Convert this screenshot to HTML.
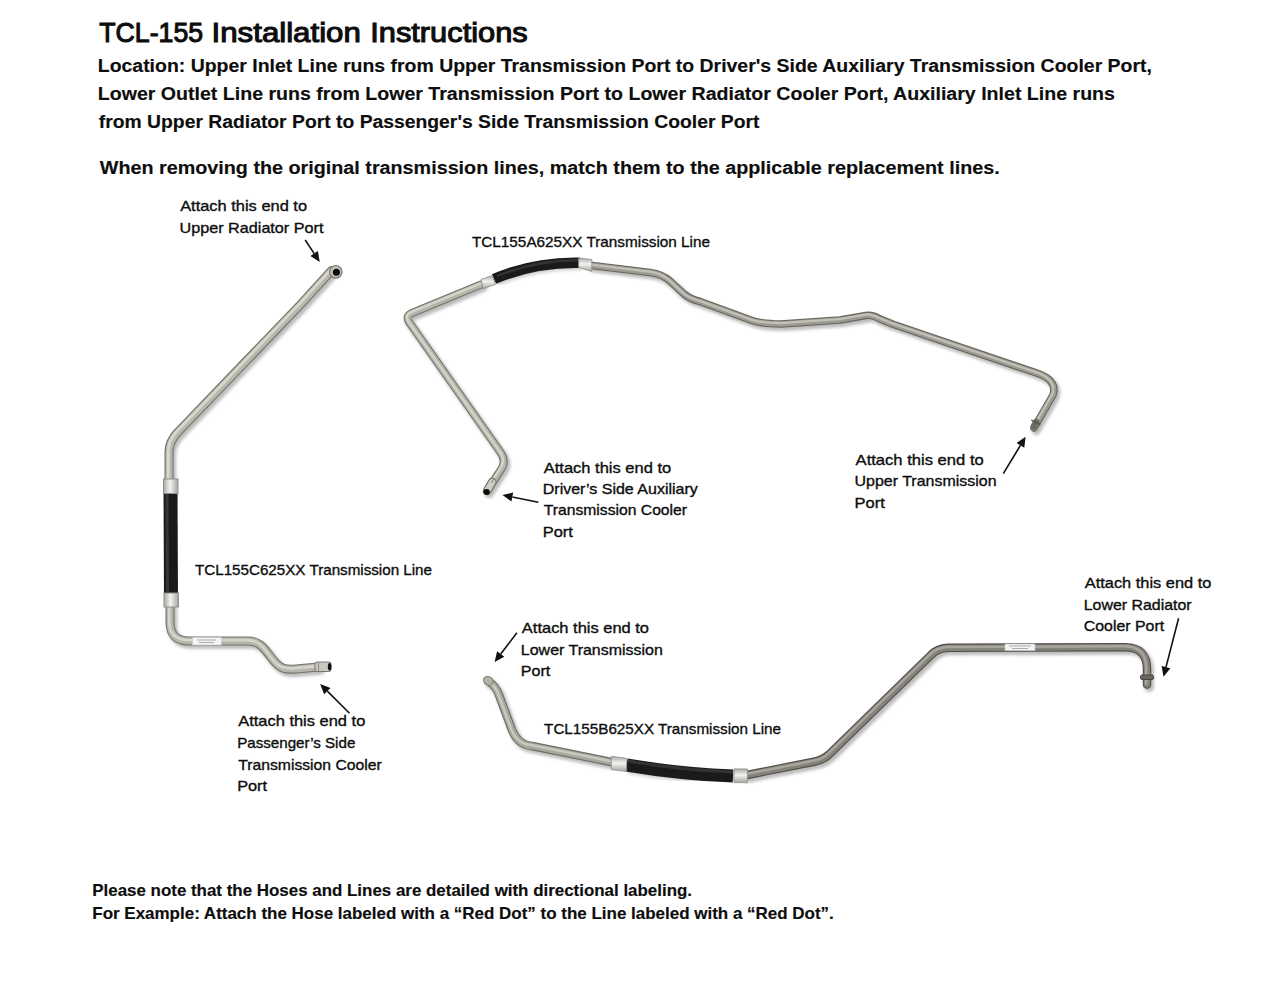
<!DOCTYPE html>
<html><head><meta charset="utf-8"><title>TCL-155 Installation Instructions</title>
<style>html,body{margin:0;padding:0;background:#fff;width:1280px;height:989px;overflow:hidden}svg{display:block}
text{font-family:"Liberation Sans", sans-serif;}</style></head>
<body>
<svg width="1280" height="989" viewBox="0 0 1280 989">
<defs><filter id="blur" x="-20%" y="-20%" width="140%" height="140%"><feGaussianBlur stdDeviation="1.6"/></filter>
<linearGradient id="fer" x1="0" y1="0" x2="0" y2="1"><stop offset="0" stop-color="#a9a9a6"/><stop offset="0.45" stop-color="#f2f2f0"/><stop offset="1" stop-color="#a4a4a0"/></linearGradient>
<linearGradient id="ferh" x1="0" y1="0" x2="1" y2="0"><stop offset="0" stop-color="#a9a9a6"/><stop offset="0.45" stop-color="#f2f2f0"/><stop offset="1" stop-color="#a4a4a0"/></linearGradient></defs>
<rect width="1280" height="989" fill="#fff"/>
<path d="M331.5,270.5 L301,304 L177,433 Q169,442 169,452 L169,481" fill="none" stroke="#000" stroke-opacity="0.26" stroke-width="10.0" stroke-linecap="round" stroke-linejoin="round" transform="translate(2.2,2.8)" filter="url(#blur)"/>
<path d="M331.5,270.5 L301,304 L177,433 Q169,442 169,452 L169,481" fill="none" stroke="#74736a" stroke-width="9.0" stroke-linecap="round" stroke-linejoin="round"/>
<path d="M331.5,270.5 L301,304 L177,433 Q169,442 169,452 L169,481" fill="none" stroke="#b9b8ad" stroke-width="6.8" stroke-linecap="round" stroke-linejoin="round"/>
<path d="M331.5,270.5 L301,304 L177,433 Q169,442 169,452 L169,481" fill="none" stroke="#dedcd4" stroke-width="2.7" stroke-linecap="round" stroke-linejoin="round" transform="translate(-0.8,-0.9)" opacity="0.85"/>
<path d="M170,606 L170,622 Q170,641 189,641 L248,641 C262,641 266,652 274,661 C280,668 284,670 296,669 L318,667" fill="none" stroke="#000" stroke-opacity="0.26" stroke-width="10.0" stroke-linecap="round" stroke-linejoin="round" transform="translate(2.2,2.8)" filter="url(#blur)"/>
<path d="M170,606 L170,622 Q170,641 189,641 L248,641 C262,641 266,652 274,661 C280,668 284,670 296,669 L318,667" fill="none" stroke="#74736a" stroke-width="9.0" stroke-linecap="round" stroke-linejoin="round"/>
<path d="M170,606 L170,622 Q170,641 189,641 L248,641 C262,641 266,652 274,661 C280,668 284,670 296,669 L318,667" fill="none" stroke="#b6b5aa" stroke-width="6.8" stroke-linecap="round" stroke-linejoin="round"/>
<path d="M170,606 L170,622 Q170,641 189,641 L248,641 C262,641 266,652 274,661 C280,668 284,670 296,669 L318,667" fill="none" stroke="#dcdad2" stroke-width="2.7" stroke-linecap="round" stroke-linejoin="round" transform="translate(-0.8,-0.9)" opacity="0.85"/>
<path d="M170.5,487 L171,600" stroke="#000" stroke-opacity="0.18" stroke-width="15" fill="none" transform="translate(2,2)" filter="url(#blur)"/>
<path d="M170.5,487 L171,600" stroke="#1a1a1a" stroke-width="14" fill="none"/>
<path d="M167,494 L167.5,592" stroke="#4a4a4a" stroke-width="3" fill="none" opacity="0.6"/>
<rect x="163.5" y="479" width="14.5" height="14.5" fill="url(#ferh)" stroke="#8e8e8a" stroke-width="1"/>
<rect x="164" y="593" width="14.5" height="14" fill="url(#ferh)" stroke="#8e8e8a" stroke-width="1"/>
<rect x="192.5" y="637.5" width="29" height="7.5" fill="#f4f4f4" stroke="#c8c8c8" stroke-width="0.6"/>
<path d="M197,640 L216,640 M199,642.5 L214,642.5" stroke="#999" stroke-width="0.8"/>
<circle cx="335.8" cy="271.8" r="6.3" fill="#c0bfb6" stroke="#77766d" stroke-width="1.2"/>
<circle cx="336.4" cy="272.3" r="3.5" fill="#0a0a0a"/>
<rect x="315" y="662" width="16" height="9.5" rx="2" fill="#c9c8c0" stroke="#77766d" stroke-width="1"/>
<path d="M318.5,662.5 L318.5,671" stroke="#888" stroke-width="1"/>
<ellipse cx="329.6" cy="666.8" rx="1.8" ry="3.8" fill="#111"/>
<path d="M487,491 L500,471 Q507,462 501,453 L409,322 Q405,316 412,313 L481,284.5" fill="none" stroke="#000" stroke-opacity="0.26" stroke-width="9.0" stroke-linecap="round" stroke-linejoin="round" transform="translate(2.2,2.8)" filter="url(#blur)"/>
<path d="M487,491 L500,471 Q507,462 501,453 L409,322 Q405,316 412,313 L481,284.5" fill="none" stroke="#74736a" stroke-width="8.0" stroke-linecap="round" stroke-linejoin="round"/>
<path d="M487,491 L500,471 Q507,462 501,453 L409,322 Q405,316 412,313 L481,284.5" fill="none" stroke="#b5b4a9" stroke-width="5.8" stroke-linecap="round" stroke-linejoin="round"/>
<path d="M487,491 L500,471 Q507,462 501,453 L409,322 Q405,316 412,313 L481,284.5" fill="none" stroke="#dad9d1" stroke-width="2.4" stroke-linecap="round" stroke-linejoin="round" transform="translate(-0.8,-0.9)" opacity="0.85"/>
<path d="M592,265.5 L650,272.5 Q662,274 670,281 L684,294 Q690,299 700,301.5 L752,320.5 Q760,323.5 781,324 L840,320 L866,315.5 Q872,314.5 880,319 L893,324.3 L1036,372.8 Q1058,380 1053,395 L1034,428" fill="none" stroke="#000" stroke-opacity="0.26" stroke-width="8.5" stroke-linecap="round" stroke-linejoin="round" transform="translate(2.2,2.8)" filter="url(#blur)"/>
<path d="M592,265.5 L650,272.5 Q662,274 670,281 L684,294 Q690,299 700,301.5 L752,320.5 Q760,323.5 781,324 L840,320 L866,315.5 Q872,314.5 880,319 L893,324.3 L1036,372.8 Q1058,380 1053,395 L1034,428" fill="none" stroke="#66655c" stroke-width="7.5" stroke-linecap="round" stroke-linejoin="round"/>
<path d="M592,265.5 L650,272.5 Q662,274 670,281 L684,294 Q690,299 700,301.5 L752,320.5 Q760,323.5 781,324 L840,320 L866,315.5 Q872,314.5 880,319 L893,324.3 L1036,372.8 Q1058,380 1053,395 L1034,428" fill="none" stroke="#9d9b91" stroke-width="5.3" stroke-linecap="round" stroke-linejoin="round"/>
<path d="M592,265.5 L650,272.5 Q662,274 670,281 L684,294 Q690,299 700,301.5 L752,320.5 Q760,323.5 781,324 L840,320 L866,315.5 Q872,314.5 880,319 L893,324.3 L1036,372.8 Q1058,380 1053,395 L1034,428" fill="none" stroke="#c9c8c0" stroke-width="2.2" stroke-linecap="round" stroke-linejoin="round" transform="translate(-0.8,-0.9)" opacity="0.85"/>
<path d="M494,279 C515,270 545,262 580,262.7" stroke="#000" stroke-opacity="0.18" stroke-width="11" fill="none" transform="translate(2,2)" filter="url(#blur)"/>
<path d="M494,279 C515,270 545,262 580,262.7" stroke="#1a1a1a" stroke-width="10.5" fill="none"/>
<path d="M497,276 C518,267.5 545,260 578,260.3" stroke="#444" stroke-width="2.4" fill="none" opacity="0.6"/>
<path d="M481,279.5 L492.3,275.5 L495.3,284.6 L483.1,288.7 Z" fill="url(#fer)" stroke="#8e8e8a" stroke-width="0.8"/>
<path d="M578.6,258 L591.8,259.5 L591.8,271.4 L578.6,267.5 Z" fill="url(#fer)" stroke="#8e8e8a" stroke-width="0.8"/>
<path d="M487.6,490 L492.2,482" stroke="#77766d" stroke-width="8.6" stroke-linecap="round" fill="none"/>
<path d="M487.6,490 L492.2,482" stroke="#cfcec5" stroke-width="6.4" stroke-linecap="round" fill="none"/>
<path d="M491.6,483 L494.2,478.5" stroke="#8a897f" stroke-width="1" fill="none"/>
<ellipse cx="486.6" cy="491.9" rx="3.2" ry="2.9" fill="#0a0a0a"/>
<path d="M1036.2,422 L1033.8,426.5" stroke="#6c6a62" stroke-width="6.5" stroke-linecap="round" fill="none"/>
<path d="M1031.3,420.2 L1040.3,424.6" stroke="#55534c" stroke-width="1.4" fill="none"/>
<path d="M488,681 Q496,686 499,695 L512,730 Q518,745 532,746 L611,762" fill="none" stroke="#000" stroke-opacity="0.26" stroke-width="9.5" stroke-linecap="round" stroke-linejoin="round" transform="translate(2.2,2.8)" filter="url(#blur)"/>
<path d="M488,681 Q496,686 499,695 L512,730 Q518,745 532,746 L611,762" fill="none" stroke="#6f6e65" stroke-width="8.5" stroke-linecap="round" stroke-linejoin="round"/>
<path d="M488,681 Q496,686 499,695 L512,730 Q518,745 532,746 L611,762" fill="none" stroke="#a9a89d" stroke-width="6.3" stroke-linecap="round" stroke-linejoin="round"/>
<path d="M488,681 Q496,686 499,695 L512,730 Q518,745 532,746 L611,762" fill="none" stroke="#cfcec6" stroke-width="2.5" stroke-linecap="round" stroke-linejoin="round" transform="translate(-0.8,-0.9)" opacity="0.85"/>
<path d="M747,775 L815,761.5 Q823,760 829,754.5 L931,655 Q937,648.5 948,647.8 L1125,647.2 Q1147,647.2 1147,669 L1147,684.5" fill="none" stroke="#000" stroke-opacity="0.26" stroke-width="9.5" stroke-linecap="round" stroke-linejoin="round" transform="translate(2.2,2.8)" filter="url(#blur)"/>
<path d="M747,775 L815,761.5 Q823,760 829,754.5 L931,655 Q937,648.5 948,647.8 L1125,647.2 Q1147,647.2 1147,669 L1147,684.5" fill="none" stroke="#524f48" stroke-width="8.5" stroke-linecap="round" stroke-linejoin="round"/>
<path d="M747,775 L815,761.5 Q823,760 829,754.5 L931,655 Q937,648.5 948,647.8 L1125,647.2 Q1147,647.2 1147,669 L1147,684.5" fill="none" stroke="#85827a" stroke-width="6.3" stroke-linecap="round" stroke-linejoin="round"/>
<path d="M747,775 L815,761.5 Q823,760 829,754.5 L931,655 Q937,648.5 948,647.8 L1125,647.2 Q1147,647.2 1147,669 L1147,684.5" fill="none" stroke="#aeaca4" stroke-width="2.5" stroke-linecap="round" stroke-linejoin="round" transform="translate(-0.8,-0.9)" opacity="0.85"/>
<path d="M626.6,765 Q680,774 733,776" stroke="#000" stroke-opacity="0.18" stroke-width="14" fill="none" transform="translate(2,2)" filter="url(#blur)"/>
<path d="M626.6,765 Q680,774 733,776" stroke="#1a1a1a" stroke-width="13" fill="none"/>
<path d="M628,761 Q680,770 733,772" stroke="#444" stroke-width="3" fill="none" opacity="0.6"/>
<path d="M611.3,756.3 L626.6,758.3 L626.6,771.6 L611.3,769.5 Z" fill="url(#fer)" stroke="#8e8e8a" stroke-width="0.8"/>
<path d="M734,768.9 L747.4,768.9 L747.4,782.8 L734,782.5 Z" fill="url(#fer)" stroke="#8e8e8a" stroke-width="0.8"/>
<rect x="1005" y="644" width="30" height="6.5" fill="#f4f4f4" stroke="#c8c8c8" stroke-width="0.6"/>
<path d="M1009,646 L1031,646 M1012,648.5 L1028,648.5" stroke="#999" stroke-width="0.8"/>
<rect x="1140.5" y="675" width="13" height="4.5" rx="1.5" fill="#6a675f" stroke="#3e3c37" stroke-width="0.9"/>
<ellipse cx="488.3" cy="680.8" rx="5" ry="4.2" transform="rotate(30 488.3 680.8)" fill="#b3b2a8" stroke="#7c7a72" stroke-width="1"/>
<line x1="305.2" y1="240.0" x2="314.2" y2="253.6" stroke="#111" stroke-width="1.6"/><polygon points="319.7,261.9 310.4,256.0 317.9,251.1" fill="#111"/>
<line x1="538.4" y1="502.2" x2="512.3" y2="497.0" stroke="#111" stroke-width="1.6"/><polygon points="502.5,495.0 513.2,492.6 511.4,501.4" fill="#111"/>
<line x1="1003.3" y1="473.6" x2="1020.4" y2="445.4" stroke="#111" stroke-width="1.6"/><polygon points="1025.6,436.8 1024.3,447.7 1016.6,443.0" fill="#111"/>
<line x1="349.5" y1="713.3" x2="327.3" y2="691.1" stroke="#111" stroke-width="1.6"/><polygon points="320.2,684.0 330.5,687.9 324.1,694.3" fill="#111"/>
<line x1="516.9" y1="632.8" x2="500.7" y2="654.0" stroke="#111" stroke-width="1.6"/><polygon points="494.6,661.9 497.1,651.2 504.3,656.7" fill="#111"/>
<line x1="1178.6" y1="618.2" x2="1166.0" y2="667.1" stroke="#111" stroke-width="1.6"/><polygon points="1163.5,676.8 1161.6,666.0 1170.4,668.2" fill="#111"/>
<g font-family="Liberation Sans, sans-serif" fill="#0d0d0d">
<text x="99.35" y="42.40" font-size="28.49" font-weight="normal" textLength="103.69" lengthAdjust="spacingAndGlyphs" stroke="#0d0d0d" stroke-width="1.10">TCL-155</text>
<text x="211.55" y="42.40" font-size="28.49" font-weight="normal" textLength="149.29" lengthAdjust="spacingAndGlyphs" stroke="#0d0d0d" stroke-width="1.10">Installation</text>
<text x="370.25" y="42.40" font-size="28.49" font-weight="normal" textLength="157.41" lengthAdjust="spacingAndGlyphs" stroke="#0d0d0d" stroke-width="1.10">Instructions</text>
<text x="97.77" y="71.70" font-size="18.90" font-weight="bold" textLength="1054.14" lengthAdjust="spacingAndGlyphs" stroke="#0d0d0d" stroke-width="0.15">Location: Upper Inlet Line runs from Upper Transmission Port to Driver's Side Auxiliary Transmission Cooler Port,</text>
<text x="97.77" y="99.80" font-size="18.90" font-weight="bold" textLength="1017.16" lengthAdjust="spacingAndGlyphs" stroke="#0d0d0d" stroke-width="0.15">Lower Outlet Line runs from Lower Transmission Port to Lower Radiator Cooler Port, Auxiliary Inlet Line runs</text>
<text x="98.77" y="127.50" font-size="18.90" font-weight="bold" textLength="660.65" lengthAdjust="spacingAndGlyphs" stroke="#0d0d0d" stroke-width="0.15">from Upper Radiator Port to Passenger's Side Transmission Cooler Port</text>
<text x="99.77" y="173.60" font-size="19.19" font-weight="bold" textLength="899.90" lengthAdjust="spacingAndGlyphs" stroke="#0d0d0d" stroke-width="0.15">When removing the original transmission lines, match them to the applicable replacement lines.</text>
<text x="180.18" y="210.60" font-size="15.41" font-weight="normal" textLength="126.85" lengthAdjust="spacingAndGlyphs" stroke="#0d0d0d" stroke-width="0.35">Attach this end to</text>
<text x="179.57" y="232.50" font-size="15.41" font-weight="normal" textLength="143.85" lengthAdjust="spacingAndGlyphs" stroke="#0d0d0d" stroke-width="0.35">Upper Radiator Port</text>
<text x="471.97" y="247.30" font-size="15.55" font-weight="normal" textLength="238.05" lengthAdjust="spacingAndGlyphs" stroke="#0d0d0d" stroke-width="0.35">TCL155A625XX Transmission Line</text>
<text x="543.77" y="472.50" font-size="15.41" font-weight="normal" textLength="127.45" lengthAdjust="spacingAndGlyphs" stroke="#0d0d0d" stroke-width="0.35">Attach this end to</text>
<text x="542.77" y="493.60" font-size="15.41" font-weight="normal" textLength="155.04" lengthAdjust="spacingAndGlyphs" stroke="#0d0d0d" stroke-width="0.35">Driver’s Side Auxiliary</text>
<text x="543.77" y="515.40" font-size="15.41" font-weight="normal" textLength="143.26" lengthAdjust="spacingAndGlyphs" stroke="#0d0d0d" stroke-width="0.35">Transmission Cooler</text>
<text x="542.77" y="536.50" font-size="15.41" font-weight="normal" textLength="30.15" lengthAdjust="spacingAndGlyphs" stroke="#0d0d0d" stroke-width="0.35">Port</text>
<text x="855.58" y="465.00" font-size="15.41" font-weight="normal" textLength="128.15" lengthAdjust="spacingAndGlyphs" stroke="#0d0d0d" stroke-width="0.35">Attach this end to</text>
<text x="854.58" y="486.30" font-size="15.41" font-weight="normal" textLength="141.95" lengthAdjust="spacingAndGlyphs" stroke="#0d0d0d" stroke-width="0.35">Upper Transmission</text>
<text x="854.58" y="508.10" font-size="15.41" font-weight="normal" textLength="30.25" lengthAdjust="spacingAndGlyphs" stroke="#0d0d0d" stroke-width="0.35">Port</text>
<text x="194.97" y="574.70" font-size="15.55" font-weight="normal" textLength="237.05" lengthAdjust="spacingAndGlyphs" stroke="#0d0d0d" stroke-width="0.35">TCL155C625XX Transmission Line</text>
<text x="238.18" y="726.20" font-size="15.41" font-weight="normal" textLength="127.15" lengthAdjust="spacingAndGlyphs" stroke="#0d0d0d" stroke-width="0.35">Attach this end to</text>
<text x="237.18" y="748.20" font-size="15.41" font-weight="normal" textLength="118.15" lengthAdjust="spacingAndGlyphs" stroke="#0d0d0d" stroke-width="0.35">Passenger’s Side</text>
<text x="238.18" y="770.10" font-size="15.41" font-weight="normal" textLength="143.66" lengthAdjust="spacingAndGlyphs" stroke="#0d0d0d" stroke-width="0.35">Transmission Cooler</text>
<text x="237.18" y="791.30" font-size="15.41" font-weight="normal" textLength="29.85" lengthAdjust="spacingAndGlyphs" stroke="#0d0d0d" stroke-width="0.35">Port</text>
<text x="521.87" y="632.60" font-size="15.41" font-weight="normal" textLength="127.15" lengthAdjust="spacingAndGlyphs" stroke="#0d0d0d" stroke-width="0.35">Attach this end to</text>
<text x="520.87" y="654.50" font-size="15.41" font-weight="normal" textLength="141.95" lengthAdjust="spacingAndGlyphs" stroke="#0d0d0d" stroke-width="0.35">Lower Transmission</text>
<text x="520.87" y="675.70" font-size="15.41" font-weight="normal" textLength="29.45" lengthAdjust="spacingAndGlyphs" stroke="#0d0d0d" stroke-width="0.35">Port</text>
<text x="544.08" y="734.30" font-size="15.55" font-weight="normal" textLength="236.95" lengthAdjust="spacingAndGlyphs" stroke="#0d0d0d" stroke-width="0.35">TCL155B625XX Transmission Line</text>
<text x="1084.78" y="587.90" font-size="15.41" font-weight="normal" textLength="126.55" lengthAdjust="spacingAndGlyphs" stroke="#0d0d0d" stroke-width="0.35">Attach this end to</text>
<text x="1083.78" y="609.50" font-size="15.41" font-weight="normal" textLength="107.85" lengthAdjust="spacingAndGlyphs" stroke="#0d0d0d" stroke-width="0.35">Lower Radiator</text>
<text x="1083.78" y="631.20" font-size="15.41" font-weight="normal" textLength="80.34" lengthAdjust="spacingAndGlyphs" stroke="#0d0d0d" stroke-width="0.35">Cooler Port</text>
<text x="92.27" y="896.30" font-size="16.28" font-weight="bold" textLength="599.75" lengthAdjust="spacingAndGlyphs" stroke="#0d0d0d" stroke-width="0.15">Please note that the Hoses and Lines are detailed with directional labeling.</text>
<text x="92.27" y="918.75" font-size="16.28" font-weight="bold" textLength="741.54" lengthAdjust="spacingAndGlyphs" stroke="#0d0d0d" stroke-width="0.15">For Example: Attach the Hose labeled with a “Red Dot” to the Line labeled with a “Red Dot”.</text>
</g>
</svg>
</body></html>
